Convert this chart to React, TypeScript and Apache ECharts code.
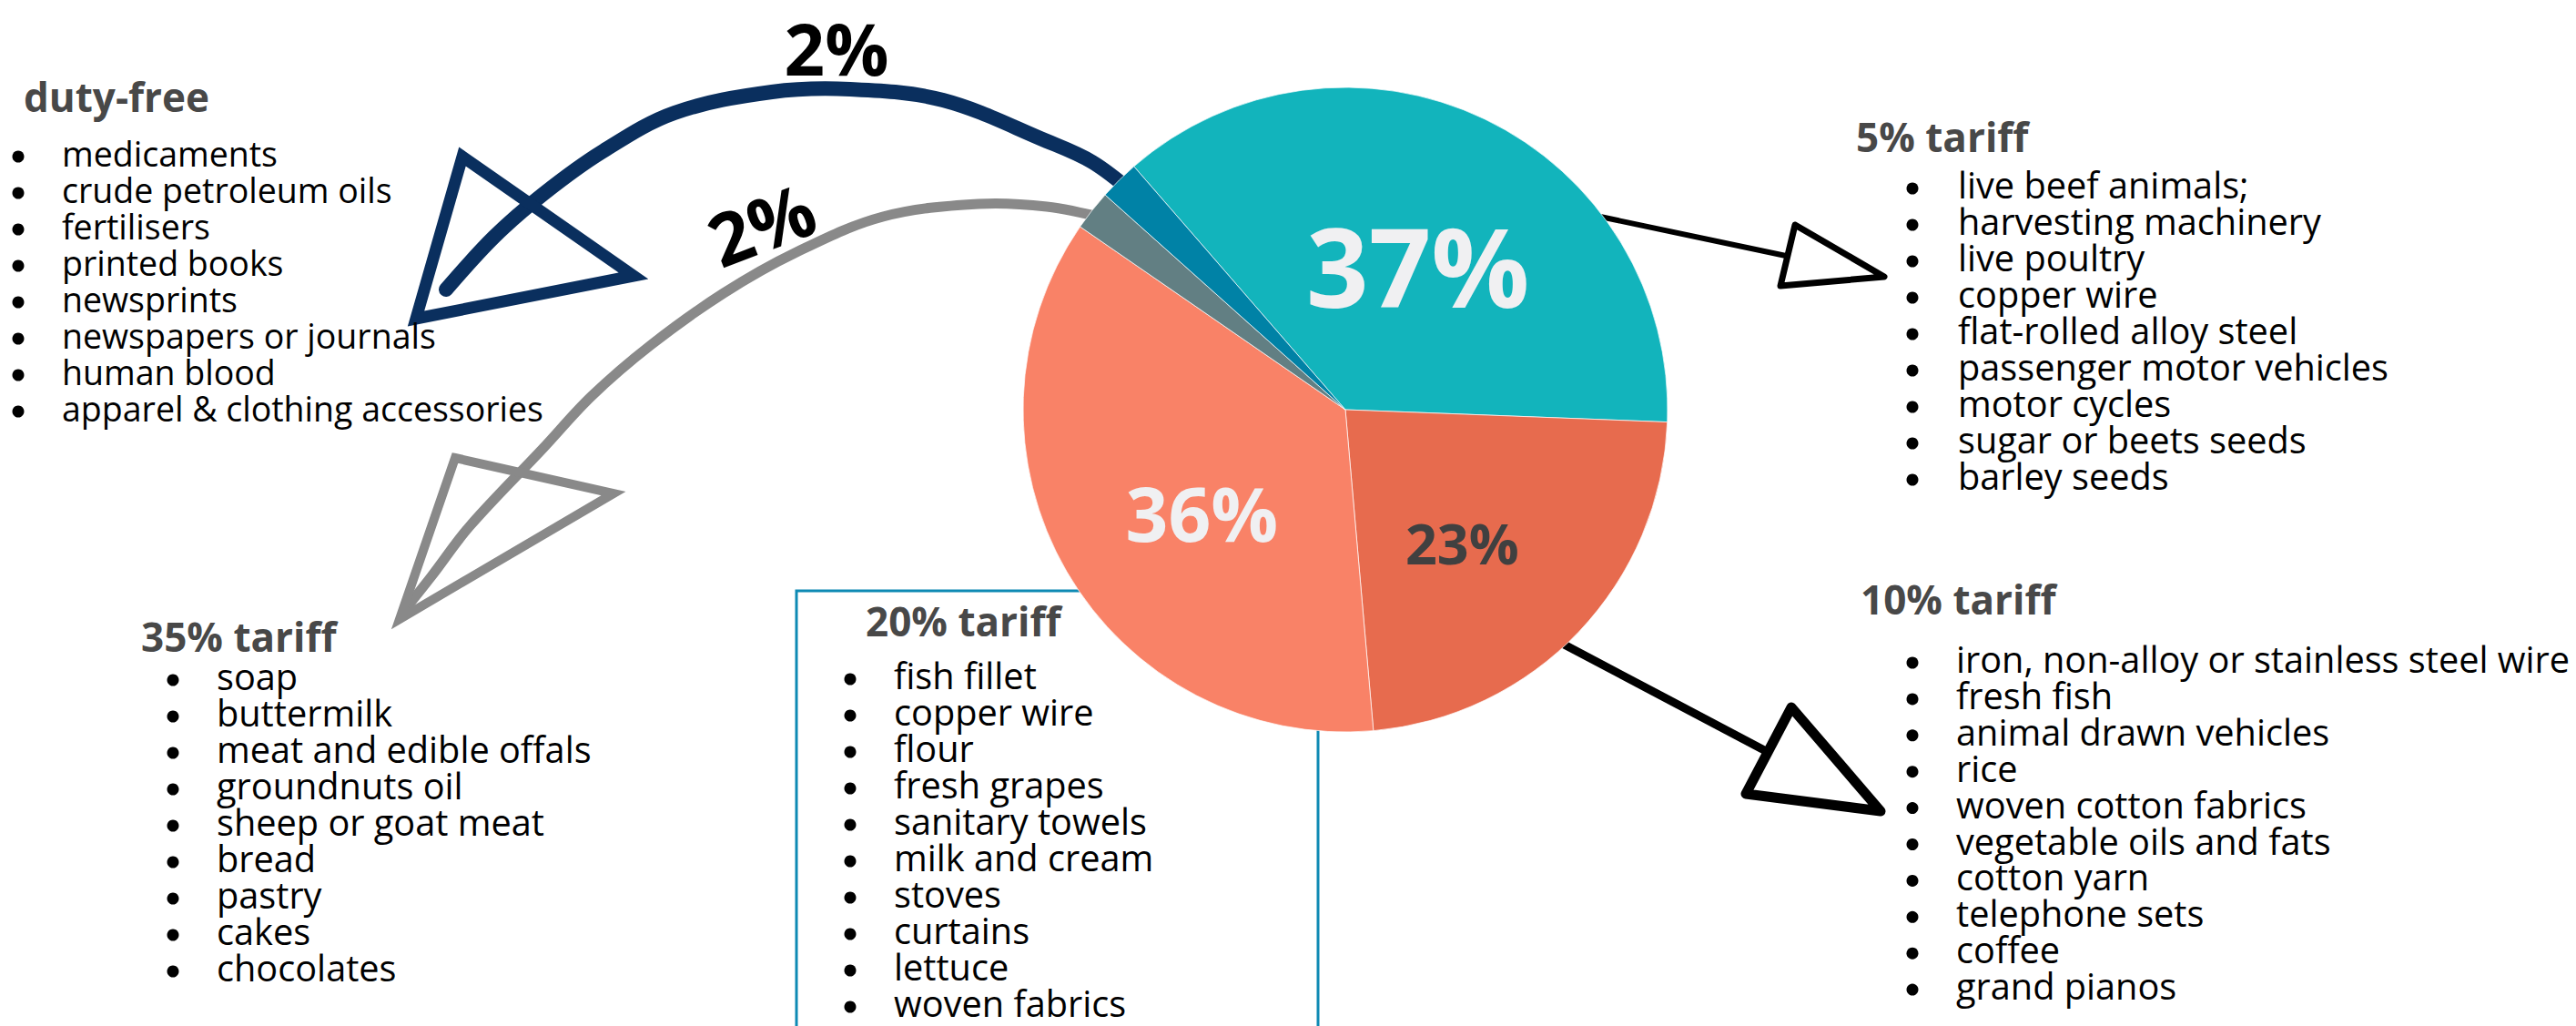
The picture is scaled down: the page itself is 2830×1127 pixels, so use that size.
import React, { useEffect, useRef } from 'react';
import * as echarts from 'echarts';

// ---------- data ----------
const categories = ['5% tariff', '10% tariff', '20% tariff', '35% tariff', 'duty-free'];
const shares = [37, 23, 36, 2, 2];

const tariff5Items = [
  'live beef animals;',
  'harvesting machinery',
  'live poultry',
  'copper wire',
  'flat-rolled alloy steel',
  'passenger motor vehicles',
  'motor cycles',
  'sugar or beets seeds',
  'barley seeds',
];
const tariff10Items = [
  'iron, non-alloy or stainless steel wire',
  'fresh fish',
  'animal drawn vehicles',
  'rice',
  'woven cotton fabrics',
  'vegetable oils and fats',
  'cotton yarn',
  'telephone sets',
  'coffee',
  'grand pianos',
];
const tariff20Items = [
  'fish fillet',
  'copper wire',
  'flour',
  'fresh grapes',
  'sanitary towels',
  'milk and cream',
  'stoves',
  'curtains',
  'lettuce',
  'woven fabrics',
];
const tariff35Items = [
  'soap',
  'buttermilk',
  'meat and edible offals',
  'groundnuts oil',
  'sheep or goat meat',
  'bread',
  'pastry',
  'cakes',
  'chocolates',
];
const dutyFreeItems = [
  'medicaments',
  'crude petroleum oils',
  'fertilisers',
  'printed books',
  'newsprints',
  'newspapers or journals',
  'human blood',
  'apparel & clothing accessories',
];

// ---------- styles / layout ----------
const FONT = '"Open Sans", "Noto Sans", sans-serif';
const sliceColors = ['#12B4BC', '#E76B4E', '#F98267', '#627F83', '#0082A6'];
const NAVY = '#0A2F5E';
const GREY = '#898989';

function txt(text: string, x: number, y: number, font: string, fill: string, align = 'left', extra: any = {}) {
  return {
    type: 'text',
    silent: true,
    ...extra,
    style: {
      text,
      x,
      y,
      font,
      fill,
      align,
      textAlign: align,
      verticalAlign: 'middle',
      textVerticalAlign: 'middle',
    },
  };
}

function listBlock(
  header: string,
  items: string[],
  hx: number,
  hy: number,
  bx: number,
  tx: number,
  y0: number,
  step: number,
  fontSize: number
) {
  const els: any[] = [];
  els.push(txt(header, hx, hy, `bold 44px ${FONT}`, '#484848'));
  items.forEach((t, i) => {
    const y = y0 + i * step;
    els.push({
      type: 'circle',
      silent: true,
      shape: { cx: bx, cy: y + 4, r: 6.5 },
      style: { fill: '#000' },
    });
    els.push(txt(t, tx, y, `${fontSize}px ${FONT}`, '#000'));
  });
  return els;
}

export default function App() {
  const ref = useRef<HTMLDivElement>(null);

  useEffect(() => {
    if (!ref.current) return;
    const chart = echarts.init(ref.current, undefined, { renderer: 'svg' });

    const labelStyles = [
      { show: true, fontSize: 120, color: '#F0F0F2' },
      { show: true, fontSize: 61, color: '#404040' },
      { show: true, fontSize: 82, color: '#F0F0F2' },
      { show: false },
      { show: false },
    ];
    const labelShift = [
      [2, 4],
      [-2, 22],
      [-2, 22],
      [0, 0],
      [0, 0],
    ];

    const graphics: any[] = [
      // 20% tariff box
      {
        type: 'rect',
        silent: true,
        shape: { x: 875, y: 649, width: 573, height: 620 },
        style: { fill: 'none', stroke: '#0E8AB4', lineWidth: 3 },
      },
      // 5% arrow
      {
        type: 'line',
        silent: true,
        shape: { x1: 1720, y1: 230, x2: 1962, y2: 281 },
        style: { stroke: '#000', lineWidth: 6 },
      },
      {
        type: 'polygon',
        silent: true,
        shape: { points: [[1972, 247], [2070, 304], [1956, 314]] },
        style: { fill: 'none', stroke: '#000', lineWidth: 7, lineJoin: 'round' },
      },
      // 10% arrow
      {
        type: 'line',
        silent: true,
        shape: { x1: 1690, y1: 693, x2: 1940, y2: 825 },
        style: { stroke: '#000', lineWidth: 9 },
      },
      {
        type: 'polygon',
        silent: true,
        shape: { points: [[1968, 777], [2066, 891], [1918, 872]] },
        style: { fill: 'none', stroke: '#000', lineWidth: 11, lineJoin: 'round' },
      },
      // duty-free curved arrow
      {
        type: 'polyline',
        silent: true,
        shape: {
          points: [
            [1245, 212], [1200, 178], [1150, 155], [1036, 110], [934, 98], [848, 101],
            [741, 124], [661, 167], [597, 213], [543, 260], [490, 318],
          ],
          smooth: 0.35,
        },
        style: { fill: 'none', stroke: NAVY, lineWidth: 16, lineCap: 'round' },
      },
      {
        type: 'polygon',
        silent: true,
        shape: { points: [[508, 172], [696, 303], [457, 350]] },
        style: { fill: 'none', stroke: NAVY, lineWidth: 13, lineJoin: 'miter' },
      },
      // 35% curved arrow
      {
        type: 'polyline',
        silent: true,
        shape: {
          points: [
            [1215, 240], [1150, 227], [1075, 224], [970, 238], [875, 277], [795, 322],
            [715, 379], [650, 435], [597, 492], [516, 578], [474, 633], [447, 667],
          ],
          smooth: 0.35,
        },
        style: { fill: 'none', stroke: GREY, lineWidth: 11, lineCap: 'round' },
      },
      {
        type: 'polygon',
        silent: true,
        shape: { points: [[500, 503], [674, 542], [439, 680]] },
        style: { fill: 'none', stroke: GREY, lineWidth: 10, lineJoin: 'miter' },
      },
      // 2% labels
      txt(`${shares[4]}%`, 919, 53, `bold 78px ${FONT}`, '#000', 'center'),
      {
        type: 'text',
        silent: true,
        x: 836,
        y: 245,
        rotation: (21 * Math.PI) / 180,
        style: {
          text: `${shares[3]}%`,
          x: 0,
          y: 0,
          font: `bold 80px ${FONT}`,
          fill: '#000',
          align: 'center',
          textAlign: 'center',
          verticalAlign: 'middle',
          textVerticalAlign: 'middle',
        },
      },
      ...listBlock(categories[4], dutyFreeItems, 26, 106, 20, 68, 168, 40, 37.5),
      ...listBlock(categories[3], tariff35Items, 155, 699, 190, 238, 743, 40, 39.7),
      ...listBlock(categories[2], tariff20Items, 951, 682, 934, 982, 742, 40, 39.7),
      ...listBlock(categories[0], tariff5Items, 2039, 150, 2101, 2151, 203, 40, 39.7),
      ...listBlock(categories[1], tariff10Items, 2044, 658, 2101, 2149, 724, 39.9, 39.7),
    ];

    chart.setOption({
      animation: false,
      backgroundColor: '#ffffff',
      graphic: { elements: graphics },
      series: [
        {
          type: 'pie',
          center: [1478, 450],
          radius: 354,
          startAngle: 131,
          clockwise: true,
          silent: true,
          avoidLabelOverlap: false,
          emphasis: { disabled: true },
          itemStyle: { borderColor: 'rgba(255,255,255,0.7)', borderWidth: 1 },
          label: {
            show: true,
            position: 'inside',
            formatter: '{c}%',
            fontFamily: FONT,
            fontWeight: 'bold',
          },
          labelLine: { show: false },
          labelLayout: (p: any) => ({ dx: labelShift[p.dataIndex][0], dy: labelShift[p.dataIndex][1] }),
          data: categories.map((name, i) => ({
            name,
            value: shares[i],
            itemStyle: { color: sliceColors[i] },
            label: labelStyles[i],
          })),
        },
      ],
    });

    return () => {
      chart.dispose();
    };
  }, []);

  return (
    <div
      ref={ref}
      style={{ position: 'fixed', left: 0, top: 0, width: 2830, height: 1127, background: '#fff' }}
    />
  );
}
